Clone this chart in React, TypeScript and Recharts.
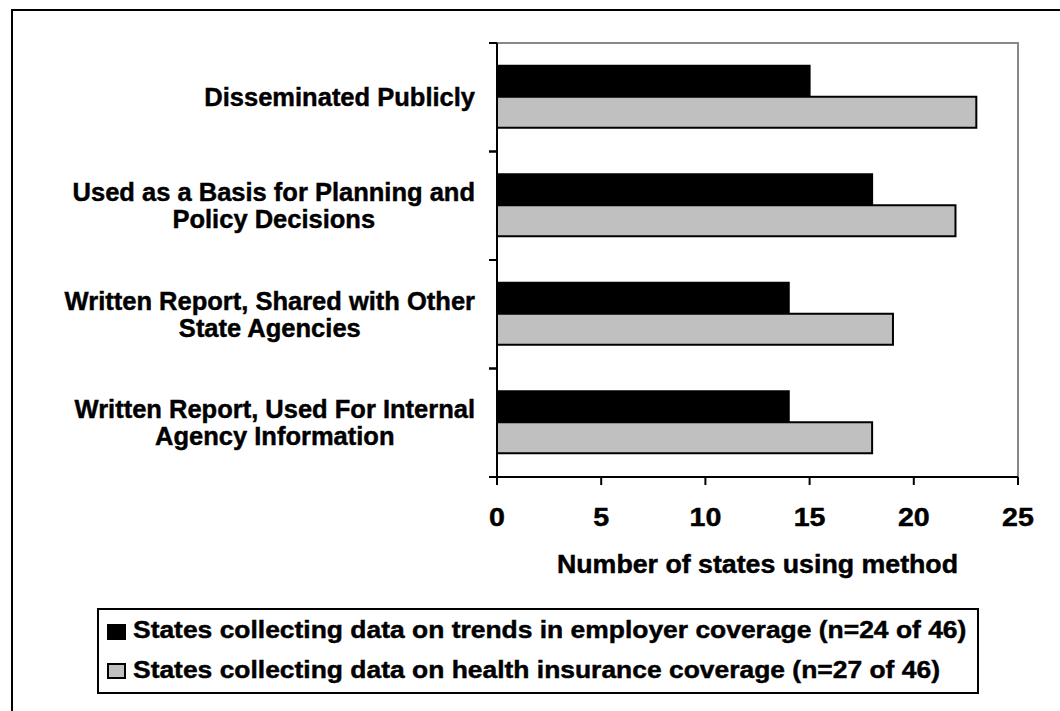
import React from 'react';
import { BarChart, Bar, XAxis, YAxis, Legend } from 'recharts';

const categories = [
  'Disseminated Publicly',
  'Used as a Basis for Planning and Policy Decisions',
  'Written Report, Shared with Other State Agencies',
  'Written Report, Used For Internal Agency Information',
];
const categoryLines = [
  ['Disseminated Publicly'],
  ['Used as a Basis for Planning and', 'Policy Decisions'],
  ['Written Report, Shared with Other', 'State Agencies'],
  ['Written Report, Used For Internal', 'Agency Information'],
];
const employerValues = [15, 18, 14, 14];
const healthValues = [23, 22, 19, 18];
const xTicks = [0, 5, 10, 15, 20, 25];
const seriesNames = [
  'States collecting data on trends in employer coverage (n=24 of 46)',
  'States collecting data on health insurance coverage (n=27 of 46)',
];
const axisTitle = 'Number of states using method';

const data = categories.map((name, i) => ({
  name,
  employer: employerValues[i],
  health: healthValues[i],
}));

const FONT = "'Liberation Sans', Arial, Helvetica, sans-serif";
const W = 1060;
const H = 711;
const MARGIN = { top: 43, right: 42, bottom: 134, left: 0 };
const YAXIS_W = 497;
const XAXIS_H = 100;
const PLOT_H = H - MARGIN.top - MARGIN.bottom - XAXIS_H;
const PLOT_X = MARGIN.left + YAXIS_W;
const PLOT_W = W - PLOT_X - MARGIN.right;

const CAT_FS = 25.5;
const CAT_SX = 1.0;
const TICK_FS = 26;
const TICK_SX = 1.1;
const TITLE_FS = 25;
const TITLE_SX = 1.07;
const LEG_FS = 23.5;
const LEG_SX = 1.125;
const TEXT_STROKE = 0.45;

let ctx: CanvasRenderingContext2D | null = null;
function measure(text: string, size: number) {
  if (!ctx) ctx = document.createElement('canvas').getContext('2d');
  if (!ctx) return text.length * size * 0.55;
  ctx.font = `bold ${size}px ${FONT}`;
  return ctx.measureText(text).width;
}

const textProps = {
  fontFamily: FONT,
  fontWeight: 'bold' as const,
  fill: '#000',
  stroke: '#000',
  strokeWidth: TEXT_STROKE,
};

function CategoryTick(props: any) {
  const { x, y, payload } = props;
  const idx = categories.indexOf(payload.value);
  const lines = categoryLines[idx] || [String(payload.value)];
  const half = PLOT_H / categories.length / 2;
  const maxW = Math.max(...lines.map((l) => measure(l, CAT_FS))) * CAT_SX;
  const right = x - 22;
  const cx = right - maxW / 2;
  const lh = 27;
  const capHalf = CAT_FS * 0.358;
  const startY = y - ((lines.length - 1) * lh) / 2 + capHalf;
  return (
    <g>
      <line x1={x - 8} x2={x} y1={y - half} y2={y - half} stroke="#000" strokeWidth={2} />
      <line x1={x - 8} x2={x} y1={y + half} y2={y + half} stroke="#000" strokeWidth={2} />
      {lines.map((l, i) => (
        <text
          key={i}
          transform={`translate(${cx},${startY + i * lh}) scale(${CAT_SX},1)`}
          x={0}
          y={0}
          textAnchor="middle"
          fontSize={CAT_FS}
          {...textProps}
        >
          {l}
        </text>
      ))}
    </g>
  );
}

function ValueTick(props: any) {
  const { x, y, payload } = props;
  return (
    <text
      transform={`translate(${x},${y + 41}) scale(${TICK_SX},1)`}
      x={0}
      y={0}
      textAnchor="middle"
      fontSize={TICK_FS}
      {...textProps}
    >
      {payload.value}
    </text>
  );
}

function AxisTitle(props: any) {
  const vb = props.viewBox || { x: PLOT_X, y: MARGIN.top + PLOT_H, width: PLOT_W, height: XAXIS_H };
  return (
    <text
      transform={`translate(${vb.x + vb.width / 2},${vb.y + 96}) scale(${TITLE_SX},1)`}
      x={0}
      y={0}
      textAnchor="middle"
      fontSize={TITLE_FS}
      {...textProps}
    >
      {axisTitle}
    </text>
  );
}

const swatchFills = ['#000000', '#C0C0C0'];

function LegendBox() {
  return (
    <div
      style={{
        position: 'relative',
        width: 882,
        height: 86,
        border: '2px solid #000',
        boxSizing: 'border-box',
        background: '#fff',
      }}
    >
      <svg width={878} height={82} style={{ position: 'absolute', left: 0, top: 0 }}>
        {seriesNames.map((name, i) => (
          <g key={i}>
            <rect
              x={9}
              y={15 + i * 39}
              width={17}
              height={14}
              fill={swatchFills[i]}
              stroke="#000"
              strokeWidth={2}
            />
            <text
              transform={`translate(34,${28 + i * 40}) scale(${LEG_SX},1)`}
              x={0}
              y={0}
              fontSize={LEG_FS}
              {...textProps}
            >
              {name}
            </text>
          </g>
        ))}
      </svg>
    </div>
  );
}

export default function App() {
  return (
    <div
      style={{
        position: 'absolute',
        left: 0,
        top: 0,
        width: W,
        height: H,
        overflow: 'hidden',
        background: '#fff',
      }}
    >
      <div
        style={{
          position: 'absolute',
          left: 11,
          top: 9,
          width: W + 100,
          height: H + 100,
          border: '2px solid #000',
        }}
      />
      <div
        style={{
          position: 'absolute',
          left: PLOT_X - 1,
          top: MARGIN.top - 1,
          width: PLOT_W,
          height: PLOT_H,
          borderTop: '2px solid #888',
          borderRight: '2px solid #888',
        }}
      />
      <div style={{ position: 'absolute', left: 0, top: 0 }}>
        <BarChart
          width={W}
          height={H}
          data={data}
          layout="vertical"
          margin={MARGIN}
          barGap={0}
          barCategoryGap="21%"
        >
          <XAxis
            type="number"
            domain={[0, 25]}
            ticks={xTicks}
            height={XAXIS_H}
            axisLine={{ stroke: '#000', strokeWidth: 2 }}
            tickLine={{ stroke: '#000', strokeWidth: 2 }}
            tickSize={8}
            tickMargin={0}
            tick={<ValueTick />}
            label={<AxisTitle />}
          />
          <YAxis
            type="category"
            dataKey="name"
            width={YAXIS_W}
            axisLine={{ stroke: '#000', strokeWidth: 2 }}
            tickLine={false}
            tickSize={0}
            tickMargin={0}
            interval={0}
            tick={<CategoryTick />}
          />
          <Bar
            dataKey="employer"
            name={seriesNames[0]}
            fill="#000000"
            stroke="#000"
            strokeWidth={2}
            isAnimationActive={false}
          />
          <Bar
            dataKey="health"
            name={seriesNames[1]}
            fill="#C0C0C0"
            stroke="#000"
            strokeWidth={2}
            isAnimationActive={false}
          />
          <Legend
            layout="horizontal"
            verticalAlign="middle"
            align="center"
            content={() => <LegendBox />}
            wrapperStyle={{ position: 'absolute', left: 97, top: 608, width: 882, height: 86 }}
          />
        </BarChart>
      </div>
    </div>
  );
}
